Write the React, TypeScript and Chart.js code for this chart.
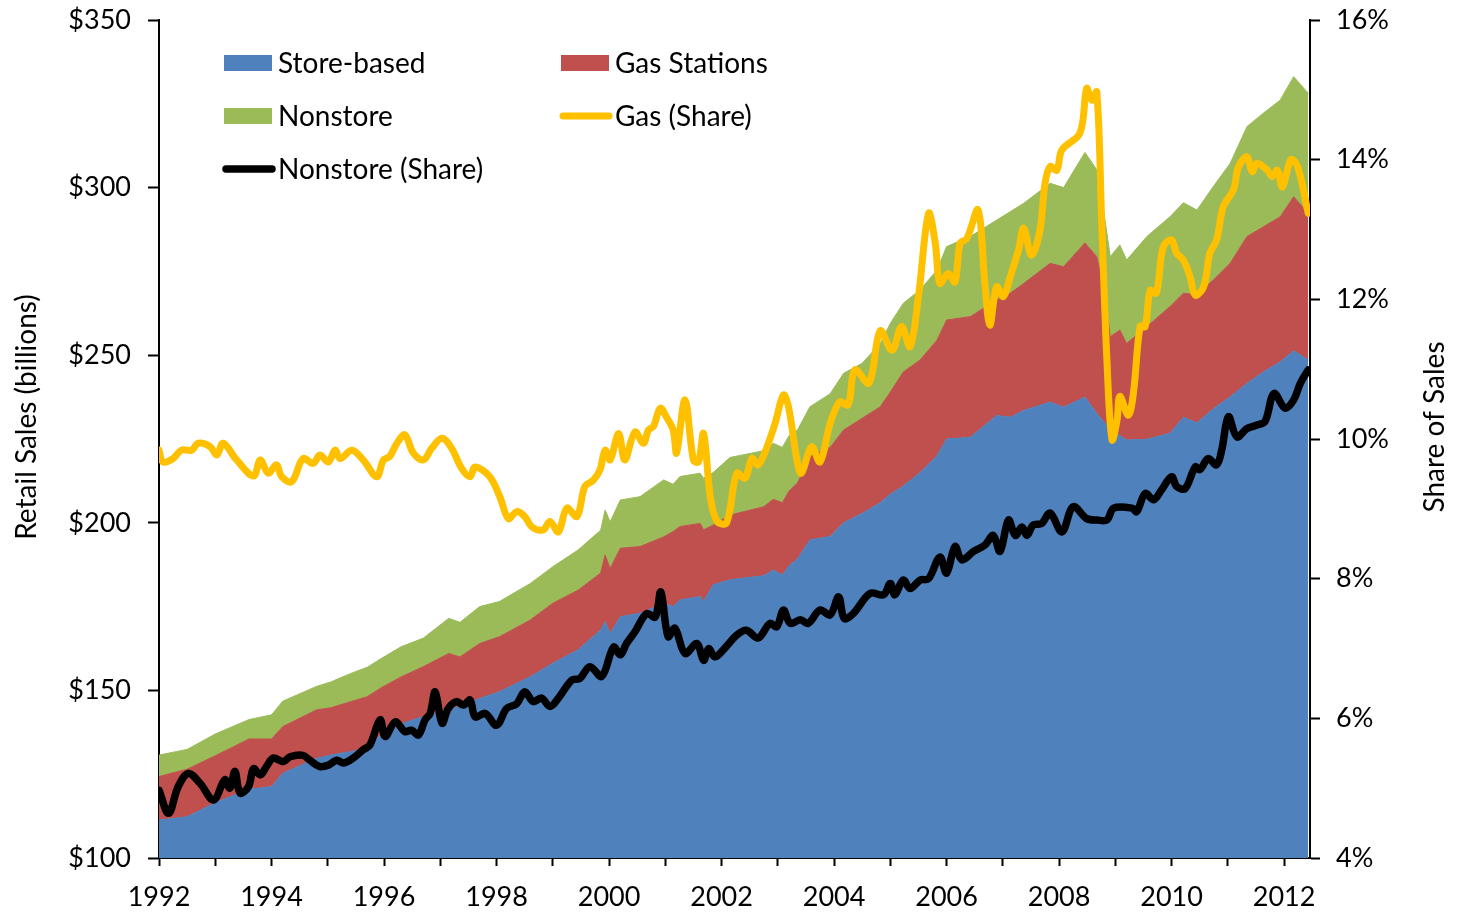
import React, { useEffect, useRef } from 'react';
import { Chart, registerables } from 'chart.js';

Chart.register(...registerables);

// ---- Data ----
const areaYears = [
  1992.0, 1992.5, 1993.0, 1993.6, 1994.0, 1994.2, 1994.8, 1995.05, 1995.4, 1995.7,
  1995.95, 1996.3, 1996.7, 1997.15, 1997.35, 1997.7, 1998.05, 1998.6, 1999.0, 1999.45,
  1999.85, 1999.93, 2000.02, 2000.2, 2000.55, 2000.97, 2001.14, 2001.26, 2001.62, 2001.68,
  2001.85, 2002.15, 2002.75, 2002.92, 2003.08, 2003.2, 2003.35, 2003.57, 2003.93, 2004.17,
  2004.5, 2004.82, 2005.0, 2005.23, 2005.53, 2005.83, 2006.0, 2006.42, 2006.89, 2007.13,
  2007.37, 2007.84, 2008.08, 2008.46, 2008.67, 2008.79, 2008.91, 2009.08, 2009.2, 2009.56,
  2009.97, 2010.21, 2010.45, 2010.74, 2011.04, 2011.34, 2011.63, 2011.93, 2012.17, 2012.43,
];
const storeBased = [
  111.3, 112.3, 116.5, 120.5, 121.3, 125.3, 129.7, 130.7, 131.7, 132.8,
  136.8, 140.0, 142.2, 144.5, 145.1, 147.6, 149.6, 154.1, 158.1, 162.1,
  168.0, 170.5, 167.0, 172.0, 173.0, 176.0, 175.0, 177.0, 178.0, 176.5,
  181.5, 183.0, 184.2, 185.9, 184.4, 187.2, 189.2, 194.9, 195.9, 200.0,
  202.8, 206.0, 208.5, 211.0, 215.0, 220.0, 225.0, 225.5, 232.0, 231.5,
  233.5, 236.0, 234.5, 237.5, 232.6, 230.2, 228.2, 226.0, 224.7, 224.9,
  226.7, 231.5, 229.8, 234.0, 237.6, 241.6, 245.0, 248.0, 251.3, 248.6,
];
const gasStations = [
  13.0, 14.2, 14.0, 15.0, 14.2, 13.9, 14.5, 14.1, 14.9, 15.3,
  14.0, 14.0, 14.9, 16.5, 14.9, 16.4, 16.4, 16.9, 17.9, 17.8,
  17.0, 19.9, 19.4, 20.4, 19.9, 19.8, 22.4, 21.9, 21.8, 21.4,
  17.8, 19.3, 20.6, 21.1, 21.6, 22.3, 22.7, 24.8, 26.6, 27.7,
  28.4, 28.6, 30.5, 34.0, 33.6, 34.5, 35.5, 36.0, 34.5, 37.0,
  37.9, 41.4, 41.9, 46.0, 46.8, 40.2, 27.3, 31.5, 28.8, 33.6,
  37.8, 37.0, 38.2, 38.4, 39.8, 43.8, 43.3, 43.3, 46.0, 43.7,
];
const nonstore = [
  6.4, 5.9, 6.5, 5.8, 7.2, 7.6, 7.0, 7.7, 8.4, 8.8,
  8.7, 9.0, 8.5, 10.5, 10.3, 11.0, 10.5, 10.9, 10.9, 12.0,
  12.8, 13.4, 13.9, 14.4, 14.9, 17.0, 14.1, 14.9, 15.0, 15.4,
  15.7, 17.2, 16.7, 16.7, 16.5, 16.5, 15.8, 14.9, 16.0, 16.9,
  16.4, 18.9, 20.5, 20.5, 20.9, 20.9, 21.9, 23.9, 23.8, 24.3,
  23.9, 23.9, 23.6, 27.0, 25.9, 22.9, 23.9, 25.4, 24.9, 26.9,
  26.8, 27.0, 25.3, 27.9, 29.8, 32.8, 33.9, 34.8, 35.8, 35.8,
];

const gasShareYears = [
  1992.0, 1992.07, 1992.25, 1992.4, 1992.58, 1992.7, 1992.91, 1993.03, 1993.14, 1993.38,
  1993.68, 1993.8, 1993.94, 1994.09, 1994.18, 1994.36, 1994.56, 1994.74, 1994.86, 1995.01,
  1995.13, 1995.22, 1995.43, 1995.63, 1995.87, 1995.99, 1996.1, 1996.23, 1996.37, 1996.52,
  1996.7, 1996.85, 1997.03, 1997.2, 1997.38, 1997.53, 1997.62, 1997.88, 1998.06, 1998.21,
  1998.36, 1998.5, 1998.63, 1998.83, 1998.95, 1999.1, 1999.25, 1999.43, 1999.57, 1999.72,
  1999.84, 1999.93, 2000.02, 2000.17, 2000.28, 2000.46, 2000.61, 2000.7, 2000.79, 2000.91,
  2001.03, 2001.14, 2001.2, 2001.35, 2001.5, 2001.59, 2001.68, 2001.8, 2001.92, 2002.09,
  2002.27, 2002.42, 2002.54, 2002.65, 2002.8, 2002.95, 2003.1, 2003.19, 2003.34, 2003.42,
  2003.6, 2003.75, 2003.93, 2004.1, 2004.25, 2004.37, 2004.62, 2004.82, 2005.03, 2005.2,
  2005.35, 2005.5, 2005.68, 2005.8, 2005.88, 2006.03, 2006.15, 2006.24, 2006.36, 2006.56,
  2006.68, 2006.77, 2006.89, 2007.01, 2007.13, 2007.28, 2007.37, 2007.51, 2007.66, 2007.75,
  2007.84, 2007.96, 2008.05, 2008.37, 2008.49, 2008.58, 2008.67, 2008.76, 2008.85, 2008.94,
  2009.03, 2009.08, 2009.23, 2009.32, 2009.44, 2009.53, 2009.62, 2009.73, 2009.85, 2010.0,
  2010.09, 2010.21, 2010.33, 2010.42, 2010.57, 2010.68, 2010.8, 2010.92, 2011.1, 2011.19,
  2011.34, 2011.43, 2011.52, 2011.7, 2011.79, 2011.88, 2011.97, 2012.12, 2012.24, 2012.43,
];
const gasShare = [
  9.84, 9.67, 9.72, 9.84, 9.84, 9.94, 9.89, 9.77, 9.94, 9.70,
  9.47, 9.70, 9.51, 9.63, 9.46, 9.39, 9.72, 9.65, 9.77, 9.67,
  9.84, 9.72, 9.84, 9.70, 9.46, 9.70, 9.75, 9.94, 10.06, 9.80,
  9.70, 9.87, 10.01, 9.87, 9.58, 9.46, 9.60, 9.46, 9.17, 8.86,
  8.96, 8.89, 8.74, 8.70, 8.82, 8.67, 9.01, 8.89, 9.32, 9.41,
  9.56, 9.84, 9.70, 10.08, 9.70, 10.10, 9.94, 10.13, 10.18, 10.44,
  10.30, 10.13, 9.80, 10.56, 9.70, 9.67, 10.08, 9.17, 8.82, 8.80,
  9.51, 9.44, 9.72, 9.63, 9.87, 10.22, 10.63, 10.46, 9.70, 9.51,
  9.89, 9.67, 10.22, 10.53, 10.49, 10.99, 10.80, 11.55, 11.27, 11.61,
  11.32, 12.04, 13.23, 12.80, 12.23, 12.37, 12.25, 12.80, 12.87, 13.28,
  12.23, 11.63, 12.18, 12.04, 12.32, 12.71, 13.02, 12.63, 12.99, 13.66,
  13.90, 13.85, 14.14, 14.38, 15.02, 14.85, 14.97, 13.04, 11.13, 9.99,
  10.27, 10.61, 10.34, 10.65, 11.61, 11.61, 12.13, 12.09, 12.75, 12.85,
  12.66, 12.56, 12.32, 12.06, 12.18, 12.66, 12.85, 13.33, 13.57, 13.90,
  14.04, 13.83, 13.95, 13.85, 13.76, 13.85, 13.61, 14.00, 13.90, 13.23,
];

const nonstoreShareYears = [
  1992.0, 1992.17, 1992.34, 1992.52, 1992.73, 1992.97, 1993.17, 1993.26, 1993.35, 1993.44,
  1993.59, 1993.68, 1993.8, 1993.91, 1994.03, 1994.21, 1994.33, 1994.56, 1994.68, 1994.86,
  1995.01, 1995.16, 1995.28, 1995.45, 1995.63, 1995.75, 1995.93, 1996.02, 1996.2, 1996.37,
  1996.49, 1996.61, 1996.73, 1996.82, 1996.91, 1997.03, 1997.14, 1997.29, 1997.41, 1997.53,
  1997.62, 1997.8, 1998.0, 1998.18, 1998.36, 1998.5, 1998.65, 1998.8, 1998.95, 1999.1,
  1999.34, 1999.48, 1999.66, 1999.87, 2000.08, 2000.2, 2000.31, 2000.46, 2000.67, 2000.82,
  2000.92, 2001.05, 2001.17, 2001.35, 2001.56, 2001.68, 2001.77, 2001.88, 2002.03, 2002.27,
  2002.44, 2002.65, 2002.86, 2002.98, 2003.1, 2003.22, 2003.4, 2003.54, 2003.75, 2003.93,
  2004.08, 2004.18, 2004.34, 2004.64, 2004.88, 2005.0, 2005.08, 2005.23, 2005.35, 2005.53,
  2005.68, 2005.88, 2006.0, 2006.15, 2006.27, 2006.48, 2006.68, 2006.83, 2006.95, 2007.1,
  2007.22, 2007.34, 2007.43, 2007.54, 2007.69, 2007.84, 2008.05, 2008.25, 2008.49, 2008.67,
  2008.85, 2008.97, 2009.3, 2009.38, 2009.53, 2009.68, 2009.82, 2010.0, 2010.09, 2010.24,
  2010.42, 2010.5, 2010.65, 2010.8, 2010.89, 2011.01, 2011.16, 2011.34, 2011.52, 2011.66,
  2011.82, 2012.02, 2012.17, 2012.29, 2012.43,
];
const nonstoreShare = [
  4.97, 4.64, 5.02, 5.21, 5.07, 4.83, 5.12, 5.00, 5.24, 4.93,
  5.02, 5.28, 5.19, 5.31, 5.43, 5.38, 5.45, 5.47, 5.40, 5.31,
  5.33, 5.40, 5.36, 5.43, 5.55, 5.62, 5.98, 5.74, 5.95, 5.81,
  5.83, 5.76, 5.98, 6.07, 6.38, 5.93, 6.14, 6.24, 6.19, 6.26,
  6.02, 6.07, 5.90, 6.14, 6.21, 6.38, 6.24, 6.29, 6.17, 6.29,
  6.55, 6.57, 6.74, 6.60, 7.02, 6.91, 7.07, 7.24, 7.50, 7.45,
  7.81, 7.17, 7.29, 6.93, 7.07, 6.83, 7.00, 6.88, 6.98, 7.19,
  7.26, 7.15, 7.36, 7.31, 7.55, 7.36, 7.41, 7.36, 7.55, 7.48,
  7.74, 7.43, 7.50, 7.79, 7.77, 7.93, 7.77, 7.98, 7.86, 7.98,
  8.00, 8.31, 8.08, 8.46, 8.27, 8.39, 8.48, 8.62, 8.39, 8.84,
  8.62, 8.74, 8.62, 8.77, 8.79, 8.94, 8.67, 9.03, 8.86, 8.84,
  8.84, 9.01, 9.01, 8.96, 9.22, 9.13, 9.27, 9.46, 9.32, 9.29,
  9.60, 9.56, 9.72, 9.63, 9.84, 10.32, 10.03, 10.15, 10.20, 10.25,
  10.65, 10.44, 10.56, 10.80, 10.99,
];

const yearTicks = [
  1992, 1993, 1994, 1995, 1996, 1997, 1998, 1999, 2000, 2001, 2002,
  2003, 2004, 2005, 2006, 2007, 2008, 2009, 2010, 2011, 2012,
];
const yearLabels = ['1992', '1994', '1996', '1998', '2000', '2002', '2004', '2006', '2008', '2010', '2012'];
const salesTicks = [100, 150, 200, 250, 300, 350];
const shareTicks = [4, 6, 8, 10, 12, 14, 16];

const seriesNames = ['Store-based', 'Gas Stations', 'Nonstore', 'Gas (Share)', 'Nonstore (Share)'];
const colors = ['#4F81BD', '#C0504D', '#9BBB59', '#FFC000', '#000000'];

const FONT = 'Lato, "Open Sans", "DejaVu Sans", sans-serif';

export default function App() {
  const ref = useRef<HTMLCanvasElement>(null);

  useEffect(() => {
    document.body.style.margin = '0';
    const canvas = ref.current;
    if (!canvas) return;

    const pairs = (xs: number[], ys: number[]) => xs.map((x, i) => ({ x, y: ys[i] }));

    const legendAndTitles = {
      id: 'legendAndTitles',
      afterDraw(chart: any) {
        const ctx = chart.ctx as CanvasRenderingContext2D;
        ctx.save();
        // Legend
        const slots = [
          { x: 224, y: 63 },
          { x: 561, y: 63 },
          { x: 224, y: 116 },
          { x: 561, y: 116 },
          { x: 224, y: 169 },
        ];
        ctx.font = `28px ${FONT}`;
        ctx.textBaseline = 'middle';
        ctx.textAlign = 'left';
        chart.data.datasets.forEach((ds: any, i: number) => {
          const s = slots[i];
          if (ds.fill !== false) {
            ctx.fillStyle = ds.backgroundColor;
            ctx.fillRect(s.x, s.y - 8, 48, 16);
          } else {
            ctx.strokeStyle = ds.borderColor;
            ctx.lineWidth = ds.borderWidth;
            ctx.lineCap = 'round';
            ctx.beginPath();
            ctx.moveTo(s.x + 2, s.y);
            ctx.lineTo(s.x + 48, s.y);
            ctx.stroke();
          }
          ctx.fillStyle = '#000';
          ctx.fillText(ds.label, s.x + 54, s.y + 1);
        });
        // Axis titles (both read bottom-to-top)
        ctx.font = `28px ${FONT}`;
        ctx.textAlign = 'center';
        ctx.textBaseline = 'middle';
        ctx.fillStyle = '#000';
        ctx.save();
        ctx.translate(27, 417);
        ctx.rotate(-Math.PI / 2);
        ctx.fillText('Retail Sales (billions)', 0, 0);
        ctx.restore();
        ctx.save();
        ctx.translate(1435, 427);
        ctx.rotate(-Math.PI / 2);
        ctx.fillText('Share of Sales', 0, 0);
        ctx.restore();
        ctx.restore();
      },
    };

    const fitVertical = (w: number) => (s: any) => {
      s.width = w;
      s.paddingTop = 0;
      s.paddingBottom = 0;
    };

    const chart = new Chart(canvas, {
      type: 'line',
      data: {
        datasets: [
          {
            label: seriesNames[0],
            data: pairs(areaYears, storeBased),
            yAxisID: 'y',
            backgroundColor: colors[0],
            borderColor: colors[0],
            borderWidth: 1,
            fill: 'start',
            tension: 0,
            pointRadius: 0,
            order: 1,
          },
          {
            label: seriesNames[1],
            data: pairs(areaYears, gasStations),
            yAxisID: 'y',
            backgroundColor: colors[1],
            borderColor: colors[1],
            borderWidth: 1,
            fill: '-1',
            tension: 0,
            pointRadius: 0,
            order: 1,
          },
          {
            label: seriesNames[2],
            data: pairs(areaYears, nonstore),
            yAxisID: 'y',
            backgroundColor: colors[2],
            borderColor: colors[2],
            borderWidth: 1,
            fill: '-1',
            tension: 0,
            pointRadius: 0,
            order: 1,
          },
          {
            label: seriesNames[3],
            data: pairs(gasShareYears, gasShare),
            yAxisID: 'y1',
            borderColor: colors[3],
            backgroundColor: colors[3],
            borderWidth: 7,
            fill: false,
            tension: 0.35,
            pointRadius: 0,
            borderCapStyle: 'round',
            borderJoinStyle: 'round',
            order: 0,
          },
          {
            label: seriesNames[4],
            data: pairs(nonstoreShareYears, nonstoreShare),
            yAxisID: 'y1',
            borderColor: colors[4],
            backgroundColor: colors[4],
            borderWidth: 7.5,
            fill: false,
            tension: 0.35,
            pointRadius: 0,
            borderCapStyle: 'round',
            borderJoinStyle: 'round',
            order: 0,
          },
        ] as any,
      },
      options: {
        responsive: false,
        animation: false,
        devicePixelRatio: 1,
        layout: { padding: { top: 20, left: 0, right: 0, bottom: 0 } },
        plugins: {
          legend: { display: false },
          tooltip: { enabled: false },
        },
        scales: {
          x: {
            type: 'linear',
            min: 1992,
            max: 2012.46,
            afterBuildTicks: (s: any) => {
              s.ticks = yearTicks.map((v) => ({ value: v }));
            },
            afterFit: (s: any) => {
              s.height = 54;
              s.paddingLeft = 0;
              s.paddingRight = 0;
            },
            grid: {
              drawOnChartArea: false,
              drawTicks: true,
              tickLength: 8,
              tickWidth: 2,
              tickColor: '#000',
            },
            border: { color: '#000', width: 2 },
            ticks: {
              autoSkip: false,
              maxRotation: 0,
              padding: 15,
              color: '#000',
              font: { family: FONT, size: 27 },
              callback: (v: any) => (yearLabels.includes(String(v)) ? String(v) : ''),
            },
          },
          y: {
            type: 'linear',
            position: 'left',
            stacked: true,
            min: 100,
            max: 350,
            afterBuildTicks: (s: any) => {
              s.ticks = salesTicks.map((v) => ({ value: v }));
            },
            afterFit: fitVertical(159),
            grid: {
              drawOnChartArea: false,
              drawTicks: true,
              tickLength: 11,
              tickWidth: 2,
              tickColor: '#000',
            },
            border: { color: '#000', width: 2 },
            ticks: {
              padding: 17,
              color: '#000',
              font: { family: FONT, size: 27 },
              callback: (v: any) => `$${v}`,
            },
          },
          y1: {
            type: 'linear',
            position: 'right',
            stacked: false,
            min: 4,
            max: 16,
            afterBuildTicks: (s: any) => {
              s.ticks = shareTicks.map((v) => ({ value: v }));
            },
            afterFit: fitVertical(148),
            grid: {
              drawOnChartArea: false,
              drawTicks: true,
              tickLength: 10,
              tickWidth: 2,
              tickColor: '#000',
            },
            border: { color: '#000', width: 2 },
            ticks: {
              padding: 16,
              color: '#000',
              font: { family: FONT, size: 27 },
              callback: (v: any) => `${v}%`,
            },
          },
        },
      } as any,
      plugins: [legendAndTitles],
    });

    return () => {
      chart.destroy();
    };
  }, []);

  return (
    <canvas
      ref={ref}
      width={1458}
      height={912}
      style={{ display: 'block', width: 1458, height: 912 }}
    />
  );
}
